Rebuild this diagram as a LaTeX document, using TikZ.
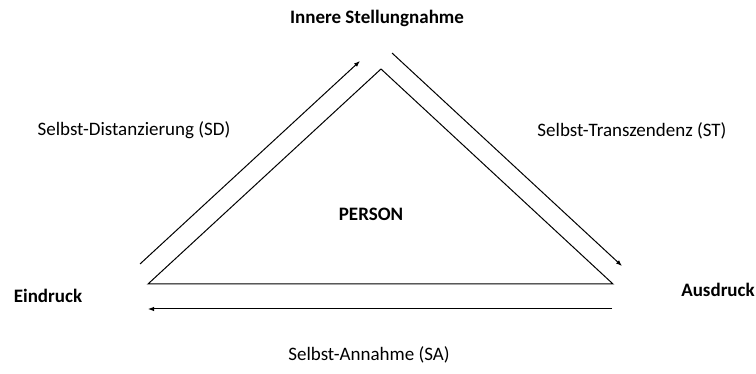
\documentclass[tikz,border=0pt]{standalone}
\usepackage{fontspec}
\setmainfont{Carlito}
\usetikzlibrary{arrows.meta}

\begin{document}
\begin{tikzpicture}[x=1pt,y=-1pt,font=\fontsize{19}{22}\selectfont,line width=1pt,>={Latex[length=6pt,width=4.5pt]}]
    \useasboundingbox (0,0) rectangle (756,374);
    \coordinate (apex) at (381,69);
    \coordinate (left_v) at (148,284);
    \coordinate (right_v) at (613,284);
    \coordinate (sd_start) at (140,264);
    \coordinate (sd_end) at (360,61);
    \coordinate (st_start) at (392,53);
    \coordinate (st_end) at (622,266);
    \coordinate (sa_start) at (612,309);
    \coordinate (sa_end) at (148,309);
    \draw [-] (left_v) -- (apex) -- (right_v) -- cycle;
    \draw [->] (sd_start) to (sd_end);
    \draw [->] (st_start) to (st_end);
    \draw [->] (sa_start) to (sa_end);
    \node (inner) [font=\fontsize{19}{22}\selectfont\bfseries] at (377,18) {Innere Stellungnahme};
    \node (person) [font=\fontsize{19}{22}\selectfont\bfseries] at (371,214) {PERSON};
    \node (eindruck) [font=\fontsize{19}{22}\selectfont\bfseries] at (48,296) {Eindruck};
    \node (ausdruck) [font=\fontsize{19}{22}\selectfont\bfseries] at (718,290) {Ausdruck};
    \node (sd) at (134,130) {Selbst-Distanzierung (SD)};
    \node (st) at (632,131) {Selbst-Transzendenz (ST)};
    \node (sa) at (369,355) {Selbst-Annahme (SA)};
\end{tikzpicture}
\end{document}
